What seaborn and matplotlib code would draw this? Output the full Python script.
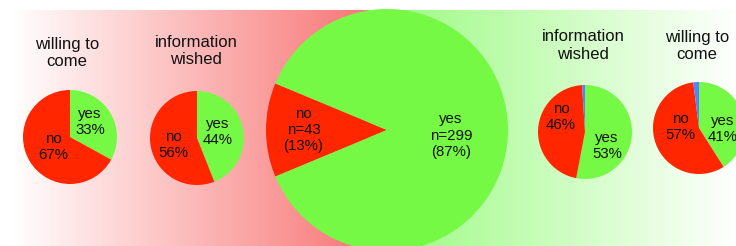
import numpy as np
import matplotlib
matplotlib.use("Agg")
import matplotlib.pyplot as plt
import seaborn as sns

sns.set_theme(style="white")
plt.rcParams['font.family'] = ['Liberation Sans', 'DejaVu Sans']

# ---------------- data ----------------
titles = ["willing to\ncome", "information\nwished", "", "information\nwished", "willing to\ncome"]
pie1_labels = ["yes", "no"]
pie1_values = [33, 67]
pie2_labels = ["yes", "no"]
pie2_values = [44, 56]
big_labels = ["no", "yes"]
big_counts = [43, 299]
big_pcts = [13, 87]
pie4_labels = ["yes", "no", ""]
pie4_values = [53, 46, 1]
pie5_labels = ["yes", "no", ""]
pie5_values = [41, 57, 2]

RED = "#FF2600"
GREEN = "#76F944"
BLUE = "#5282FF"

W, H = 736, 246
fig = plt.figure(figsize=(W / 100, H / 100), dpi=100)
fig.patch.set_facecolor("white")

# ---------------- background gradient ----------------
bg = fig.add_axes([0, 0, 1, 1])
bg.set_axis_off()
xs = np.arange(W)
red_c = np.array([248, 118, 118]) / 255.0
green_c = np.array([152, 250, 125]) / 255.0
white = np.ones(3)
split = 368
row = np.zeros((W, 3))
for i, x in enumerate(xs):
    if x < split:
        t = np.clip((x - 12) / (split - 12), 0, 1)
        row[i] = white * (1 - t) + red_c * t
    else:
        t = np.clip((x - split) / (W - split), 0, 1)
        row[i] = green_c * (1 - t) + white * t
img = np.tile(row[None, :, :], (2, 1, 1))
bg.imshow(img, extent=[0, W, H, 10], aspect="auto", interpolation="bilinear")
bg.set_xlim(0, W)
bg.set_ylim(H, 0)

# ---------------- pies ----------------
def add_pie(cx, cy, r, values, labels, colors, startangle, dists, shifts, fs=10.8):
    ax = fig.add_axes([(cx - r) / W, (H - cy - r) / H, 2 * r / W, 2 * r / H])
    ax.set_axis_off()
    wedges, _ = ax.pie(values, colors=colors, startangle=startangle, counterclock=False,
                       radius=1, wedgeprops=dict(linewidth=0, antialiased=True))
    ax.set_xlim(-1, 1)
    ax.set_ylim(-1, 1)
    for w, lab, d, s in zip(wedges, labels, dists, shifts):
        if not lab:
            continue
        ang = np.deg2rad((w.theta1 + w.theta2) / 2 + s)
        ax.text(d * np.cos(ang), d * np.sin(ang), lab, ha="center", va="center",
                fontsize=fs, color="#111111", linespacing=1.22)
    return ax

def title(x, y, txt):
    fig.text(x / W, 1 - y / H, txt, ha="center", va="center", fontsize=12,
             color="#111111", linespacing=1.2)

lab1 = [f"{l}\n{v}%" for l, v in zip(pie1_labels, pie1_values)]
add_pie(70, 137, 47, pie1_values, lab1, [GREEN, RED], 90, [0.53, 0.42], [6, 0])
title(67, 53, titles[0])

lab2 = [f"{l}\n{v}%" for l, v in zip(pie2_labels, pie2_values)]
add_pie(197, 138, 47, pie2_values, lab2, [GREEN, RED], 90, [0.46, 0.53], [5, 5])
title(196, 51, titles[1])

labb = [f"{l}\nn={c}\n({p}%)" for l, c, p in zip(big_labels, big_counts, big_pcts)]
no_frac = big_counts[0] / sum(big_counts)
add_pie(387, 130, 121, big_counts, labb, [RED, GREEN], 180 + 180 * no_frac,
        [0.69, 0.53], [0, -5])

lab4 = [f"{l}\n{v}%" if l else "" for l, v in zip(pie4_labels, pie4_values)]
add_pie(585, 132, 47, pie4_values, lab4, [GREEN, RED, BLUE], 90, [0.55, 0.6, 0], [-27, -28, 0])
title(583, 45.5, titles[3])

lab5 = [f"{l}\n{v}%" if l else "" for l, v in zip(pie5_labels, pie5_values)]
add_pie(699, 128, 46, pie5_values, lab5, [GREEN, RED, BLUE], 90, [0.52, 0.41, 0], [-18, -23, 0])
title(697, 46, titles[4])

fig.savefig("out.png", dpi=100, facecolor="white")
